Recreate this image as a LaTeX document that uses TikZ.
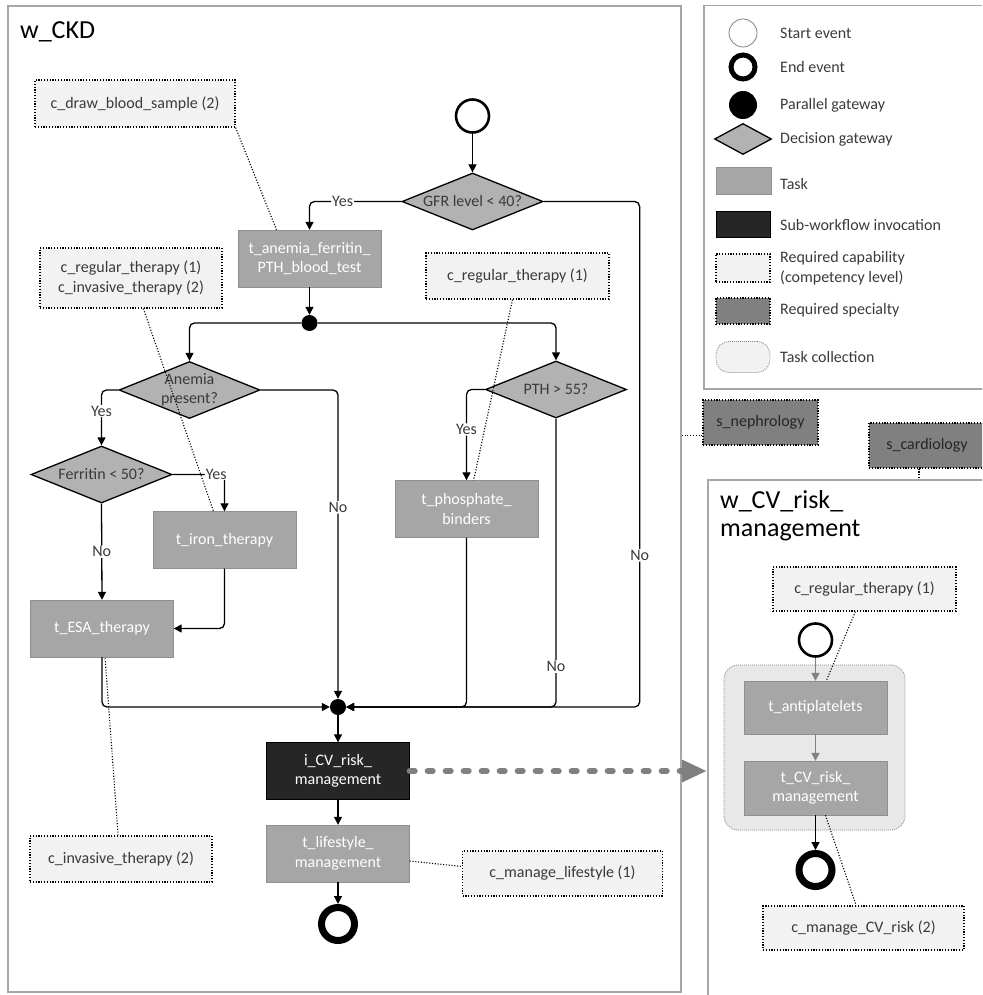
\documentclass[tikz,border=0pt]{standalone}
\usepackage{fontspec}
\setmainfont{Carlito}
\usetikzlibrary{arrows.meta,shapes.geometric}

\definecolor{taskgray}{HTML}{A6A6A6}
\definecolor{taskline}{HTML}{8F8F8F}
\definecolor{subdark}{HTML}{262626}
\definecolor{gategray}{HTML}{B2B2B2}
\definecolor{capfill}{HTML}{F2F2F2}
\definecolor{specgray}{HTML}{808080}
\definecolor{collfill}{HTML}{E8E8E8}
\definecolor{framegray}{HTML}{A6A6A6}
\definecolor{textdark}{HTML}{3A3A3A}
\definecolor{callgray}{HTML}{808080}

\begin{document}
\begin{tikzpicture}[x=1pt, y=-1pt, >={Triangle[length=8pt, width=8pt]},
		font=\fontsize{16}{19.5}\selectfont,
		frame/.style={draw=framegray, line width=2pt, anchor=north west, inner sep=0pt},
		title/.style={font=\fontsize{26}{28}\selectfont, anchor=west, align=left, inner sep=0pt},
		task/.style={draw=taskline, fill=taskgray, text=white, align=center, minimum width=143pt, minimum height=57pt, inner sep=2pt},
		subwf/.style={task, draw=black, fill=subdark},
		gate/.style={diamond, shape aspect=2.5, draw=black, line width=1.3pt, fill=gategray, text=textdark, align=center, inner sep=0pt, minimum width=141pt, minimum height=57pt},
		capab/.style={draw=black, line width=1.2pt, dash pattern=on 1.2pt off 1.6pt, fill=capfill, text=textdark, align=center, minimum height=46pt},
		spec/.style={capab, fill=specgray, text=black!85},
		startev/.style={circle, draw=black, line width=2.6pt, fill=white, minimum size=33pt, inner sep=0pt},
		endev/.style={circle, draw=black, line width=7pt, fill=white, minimum size=33pt, inner sep=0pt},
		bar/.style={circle, fill=black, minimum size=16pt, inner sep=0pt},
		coll/.style={draw=taskline, line width=0.8pt, dash pattern=on 1pt off 1pt, fill=collfill, rounded corners=14pt},
		flow/.style={->, line width=1.3pt, rounded corners=5pt},
		lbl/.style={fill=white, text=textdark, inner sep=1pt},
		link/.style={line width=1.1pt, dash pattern=on 1.1pt off 1.7pt},
		call/.style={draw=callgray, line width=6pt, line cap=round, dash pattern=on 5pt off 13pt, -{Triangle[length=25pt, width=21pt]}},
		legtxt/.style={anchor=west, align=left, inner sep=0pt, text=textdark}]
		\useasboundingbox (0,0) rectangle (982,995);
		\clip (0,0) rectangle (982,995);
		% frames
		\node[frame, minimum width=673pt, minimum height=986pt] (ckd) at (7,5) {};
		\node[frame, line width=1.5pt, minimum width=300pt, minimum height=383pt] (legend) at (703,5) {};
		\node[frame, minimum width=300pt, minimum height=540pt] (cv) at (707,479) {};
		\node[title] (ckdtitle) at (20,32) {w\_CKD};
		\node[title] (cvtitle) at (720,516) {w\_CV\_risk\_\\management};
		% main workflow
		\node[startev] (start) at (472.5,116) {};
		\node[gate] (gfr) at (472.5,201.5) {GFR level < 40?};
		\node[task] (bloodtest) at (309.5,258.5) {t\_anemia\_ferritin\_\\PTH\_blood\_test};
		\node[bar] (split) at (309.5,323) {};
		\node[gate, inner ysep=-3pt] (anemia) at (189.5,390) {Anemia\\present?};
		\node[gate] (ferritin) at (101.5,474.5) {Ferritin < 50?};
		\node[task] (iron) at (224.5,540) {t\_iron\_therapy};
		\node[task] (esa) at (102,628.5) {t\_ESA\_therapy};
		\node[gate] (pth) at (556,389.5) {PTH > 55?};
		\node[task] (phos) at (466.5,509) {t\_phosphate\_\\binders};
		\node[bar] (join) at (338,707) {};
		\node[subwf] (icv) at (338,771) {i\_CV\_risk\_\\management};
		\node[task] (lifestyle) at (338,853.5) {t\_lifestyle\_\\management};
		\node[endev] (stop) at (338,924) {};
		% capabilities
		\node[capab, minimum width=200pt, minimum height=47pt] (cdraw) at (135,103.5) {c\_draw\_blood\_sample (2)};
		\node[capab, minimum width=182pt, minimum height=60pt] (cregtwo) at (131,278) {c\_regular\_therapy (1)\\c\_invasive\_therapy (2)};
		\node[capab, minimum width=183pt] (cregmid) at (517.5,276) {c\_regular\_therapy (1)};
		\node[capab, minimum width=182pt] (cinv) at (121,859) {c\_invasive\_therapy (2)};
		\node[capab, minimum width=200pt, minimum height=45pt] (cmanlife) at (562.5,873.5) {c\_manage\_lifestyle (1)};
		% specialties
		\node[spec, minimum width=115pt, minimum height=45pt] (sneph) at (760.5,422.5) {s\_nephrology};
		\node[spec, minimum width=116pt, minimum height=45pt] (scard) at (927,445.5) {s\_cardiology};
		% sub-workflow
		\node[capab, minimum width=183pt, minimum height=44pt] (ccvreg) at (864.5,589) {c\_regular\_therapy (1)};
		\node[startev] (cvstart) at (815.5,640) {};
		\node[coll, minimum width=181pt, minimum height=165pt] (tcoll) at (814.5,747.5) {};
		\node[task, minimum height=53pt] (antipl) at (815.5,707.5) {t\_antiplatelets};
		\node[task, minimum height=54pt] (tcvrisk) at (815.5,788) {t\_CV\_risk\_\\management};
		\node[endev] (cvstop) at (815.5,870) {};
		\node[capab, minimum width=201pt, minimum height=44pt] (cmancv) at (863.5,928) {c\_manage\_CV\_risk (2)};
		% legend
		\node[circle, draw=gray, line width=0.8pt, minimum size=28pt, inner sep=0pt] (lgstart) at (743,33) {};
		\node[endev, line width=5pt, minimum size=24pt] (lgend) at (743,67) {};
		\node[bar, minimum size=28pt] (lgbar) at (743,105) {};
		\node[gate, minimum width=57pt, minimum height=31pt] (lggate) at (743,139) {};
		\node[task, minimum width=55pt, minimum height=27pt] (lgtask) at (743.5,180.5) {};
		\node[subwf, minimum width=54pt, minimum height=26pt] (lgsub) at (743,224) {};
		\node[capab, minimum width=54pt, minimum height=28pt] (lgcap) at (743,268) {};
		\node[spec, minimum width=54pt, minimum height=26pt] (lgspec) at (743,311) {};
		\node[coll, fill=capfill, rounded corners=13pt, minimum width=54pt, minimum height=31pt] (lgcoll) at (743,357) {};
		\node[legtxt] (lgstarttxt) at (780,33) {Start event};
		\node[legtxt] (lgendtxt) at (780,67) {End event};
		\node[legtxt] (lgbartxt) at (780,105) {Parallel gateway};
		\node[legtxt] (lggatetxt) at (780,139) {Decision gateway};
		\node[legtxt] (lgtasktxt) at (780,184) {Task};
		\node[legtxt] (lgsubtxt) at (780,225) {Sub-workflow invocation};
		\node[legtxt] (lgcaptxt) at (780,268) {Required capability\\(competency level)};
		\node[legtxt] (lgspectxt) at (780,310) {Required specialty};
		\node[legtxt] (lgcolltxt) at (780,357) {Task collection};
		% control flow
		\draw[flow] (start.south) -- (gfr.north);
		\draw[flow] (gfr.west) -| node[lbl, pos=0.32] (gfryes) {Yes} (bloodtest.north);
		\draw[flow] (gfr.east) -- ++(96,0) |- node[lbl, pos=0.35] (gfrno) {No} (join.east);
		\draw[flow] (bloodtest.south) -- (split.north);
		\draw[flow] (split.west) -| (anemia.north);
		\draw[flow] (split.east) -| (pth.north);
		\draw[flow] (anemia.west) -| node[lbl, pos=0.69] (anemiayes) {Yes} (ferritin.north);
		\draw[flow] (anemia.east) -| node[lbl, pos=0.69] (anemiano) {No} (join.north);
		\draw[flow] (ferritin.east) -| node[lbl, pos=0.42] (ferritinyes) {Yes} (iron.north);
		\draw[flow] (ferritin.south) -- node[lbl] (ferritinno) {No} (esa.north);
		\draw[flow] (iron.south) |- (esa.east);
		\draw[flow] (esa.south) |- (join.west);
		\draw[flow] (pth.west) -| node[lbl, pos=0.72] (pthyes) {Yes} (phos.north);
		\draw[flow] (pth.south) |- node[lbl, pos=0.43] (pthno) {No} (join.east);
		\draw[flow] (phos.south) |- (join.east);
		\draw[flow] (join.south) -- (icv.north);
		\draw[flow] (icv.south) -- (lifestyle.north);
		\draw[flow] (lifestyle.south) -- (stop.north);
		\draw[flow, draw=callgray] (cvstart.south) -- (antipl.north);
		\draw[flow, draw=callgray] (antipl.south) -- (tcvrisk.north);
		\draw[flow] (tcvrisk.south) -- (cvstop.north);
		% invocation
		\draw[call] (icv.east) -- (icv.east -| cv.west);
		% requirement links
		\draw[link] (cdraw.south east) -- (bloodtest.139);
		\draw[link] (cregtwo.-68) -- (iron.111);
		\draw[link] (cregmid.-102) -- (phos.76);
		\draw[link] (cinv.97) -- (esa.-84);
		\draw[link] (lifestyle.-6) -- (cmanlife.176);
		\draw[link] (sneph.-167) -- (sneph.-167 -| ckd.east);
		\draw[link] ([xshift=-8pt]scard.south) -- ([xshift=-8pt]scard.south |- cv.north);
		\draw[link] (ccvreg.-112) -- (antipl.68);
		\draw[link] (tcvrisk.-70) -- (cmancv.108);
	\end{tikzpicture}
\end{document}
